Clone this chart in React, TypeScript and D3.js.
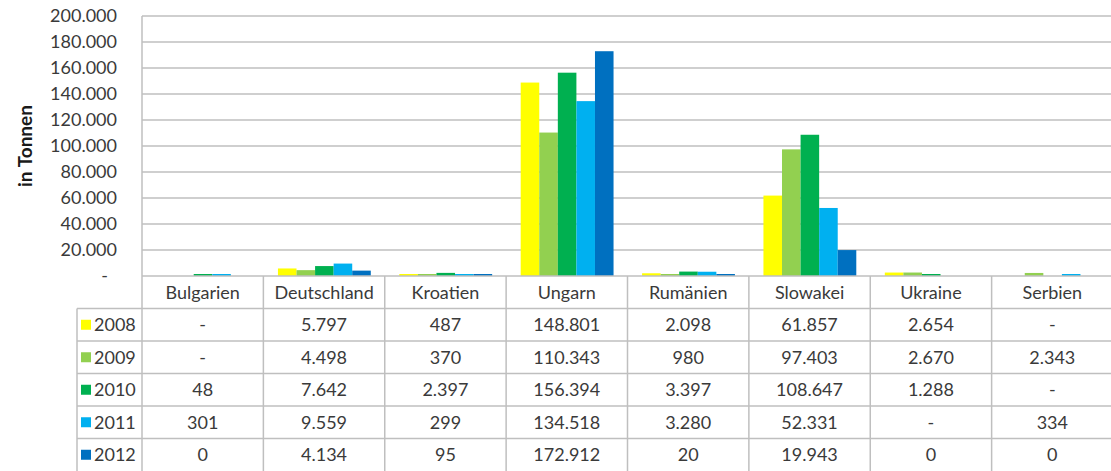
import * as d3 from "d3";
import { useEffect, useRef } from "react";

const countries = ["Bulgarien", "Deutschland", "Kroatien", "Ungarn", "Rumänien", "Slowakei", "Ukraine", "Serbien"];
const years = ["2008", "2009", "2010", "2011", "2012"];
const yearColors = ["#ffff00", "#92d050", "#00b050", "#00b0f0", "#0070c0"];

// null = "-" in the table
const v2008 = [null, 5797, 487, 148801, 2098, 61857, 2654, null];
const v2009 = [null, 4498, 370, 110343, 980, 97403, 2670, 2343];
const v2010 = [48, 7642, 2397, 156394, 3397, 108647, 1288, null];
const v2011 = [301, 9559, 299, 134518, 3280, 52331, null, 334];
const v2012 = [0, 4134, 95, 172912, 20, 19943, 0, 0];
const series = [v2008, v2009, v2010, v2011, v2012];

const yTicks = [0, 20000, 40000, 60000, 80000, 100000, 120000, 140000, 160000, 180000, 200000];

const W = 1111;
const H = 471;

export default function App() {
  const ref = useRef<SVGSVGElement>(null);

  useEffect(() => {
    if (!ref.current) return;
    const svg = d3.select(ref.current);
    svg.selectAll("*").remove();

    const de = d3.formatLocale({ decimal: ",", thousands: ".", grouping: [3], currency: ["", " €"] });
    const fmt = de.format(",d");

    const left = 142;
    const right = 1113;
    const top = 16;
    const zero = 276;
    const rowH = 32.5;
    const headerBottom = 308.5;
    const legendLeft = 77;

    const font = "Lato, 'Open Sans', sans-serif";
    const textColor = "#3a3a3a";
    const gridColor = "#bfbfbf";

    const x = d3.scaleBand<string>().domain(countries).range([left, right]).padding(0);
    const inner = d3
      .scaleBand<string>()
      .domain(years)
      .range([x.bandwidth() * 0.12, x.bandwidth() * 0.885])
      .padding(0);
    const y = d3.scaleLinear().domain([0, 200000]).range([zero, top]);

    // grid lines
    svg
      .append("g")
      .selectAll("line")
      .data(yTicks.filter((t) => t > 0))
      .enter()
      .append("line")
      .attr("x1", left)
      .attr("x2", right)
      .attr("y1", (d) => y(d))
      .attr("y2", (d) => y(d))
      .attr("stroke", gridColor)
      .attr("stroke-width", 1.5);

    // bars (tiny non-zero values stay visible as a thin line, like the original)
    const groups = svg
      .append("g")
      .selectAll("g")
      .data(countries)
      .enter()
      .append("g")
      .attr("transform", (d) => `translate(${x(d)},0)`);

    const barH = (v: number) => (v > 0 ? Math.max(zero - y(v), 2) : 0);

    groups
      .selectAll("rect")
      .data((c, ci) => years.map((yr, si) => ({ yr, si, v: series[si][ci] ?? 0 })))
      .enter()
      .append("rect")
      .attr("x", (d) => inner(d.yr)!)
      .attr("width", inner.bandwidth())
      .attr("y", (d) => zero - barH(d.v))
      .attr("height", (d) => barH(d.v))
      .attr("fill", (d) => yearColors[d.si]);

    // y tick labels
    const ticks = svg.append("g");
    ticks
      .selectAll("text")
      .data(yTicks)
      .enter()
      .append("text")
      .attr("x", (d) => (d === 0 ? 108 : 117))
      .attr("y", (d) => y(d))
      .attr("dy", "0.35em")
      .attr("text-anchor", "end")
      .attr("font-family", font)
      .attr("font-size", 18)
      .attr("fill", textColor)
      .text((d) => (d === 0 ? "-" : fmt(d)));

    // y axis title
    svg
      .append("text")
      .attr("transform", `translate(25,${(top + zero) / 2}) rotate(-90)`)
      .attr("text-anchor", "middle")
      .attr("dy", "0.35em")
      .attr("font-family", font)
      .attr("font-weight", "bold")
      .attr("font-size", 19)
      .attr("fill", "#1a1a1a")
      .text("in Tonnen");

    // table lines
    const lines = svg.append("g").attr("stroke", gridColor).attr("stroke-width", 1.5);
    lines.append("line").attr("x1", left).attr("x2", right).attr("y1", zero).attr("y2", zero);
    lines.append("line").attr("x1", left).attr("x2", left).attr("y1", top).attr("y2", H);
    lines
      .selectAll(".sep")
      .data(countries.slice(1))
      .enter()
      .append("line")
      .attr("x1", (d) => x(d)!)
      .attr("x2", (d) => x(d)!)
      .attr("y1", zero)
      .attr("y2", H);
    const rowTops = years.map((_, i) => headerBottom + i * rowH);
    lines
      .selectAll(".row")
      .data(rowTops)
      .enter()
      .append("line")
      .attr("x1", legendLeft)
      .attr("x2", right)
      .attr("y1", (d) => d)
      .attr("y2", (d) => d);
    lines.append("line").attr("x1", legendLeft).attr("x2", legendLeft).attr("y1", headerBottom).attr("y2", H);

    // header labels
    svg
      .append("g")
      .selectAll("text")
      .data(countries)
      .enter()
      .append("text")
      .attr("x", (d) => x(d)! + x.bandwidth() / 2)
      .attr("y", (zero + headerBottom) / 2)
      .attr("dy", "0.35em")
      .attr("text-anchor", "middle")
      .attr("font-family", font)
      .attr("font-size", 18)
      .attr("fill", textColor)
      .text((d) => d);

    // legend cells
    const legend = svg
      .append("g")
      .selectAll("g")
      .data(years)
      .enter()
      .append("g")
      .attr("transform", (d, i) => `translate(0,${rowTops[i] + rowH / 2})`);
    legend
      .append("rect")
      .attr("x", legendLeft + 4)
      .attr("y", -5)
      .attr("width", 10)
      .attr("height", 10)
      .attr("fill", (d, i) => yearColors[i]);
    legend
      .append("text")
      .attr("x", legendLeft + 17)
      .attr("dy", "0.35em")
      .attr("font-family", font)
      .attr("font-size", 18)
      .attr("fill", textColor)
      .text((d) => d);

    // value cells
    series.forEach((vals, si) => {
      svg
        .append("g")
        .selectAll("text")
        .data(vals)
        .enter()
        .append("text")
        .attr("x", (d, ci) => x(countries[ci])! + x.bandwidth() / 2)
        .attr("y", rowTops[si] + rowH / 2)
        .attr("dy", "0.35em")
        .attr("text-anchor", "middle")
        .attr("font-family", font)
        .attr("font-size", 18)
        .attr("fill", textColor)
        .text((d) => (d === null ? "-" : fmt(d)));
    });
  }, []);

  return (
    <svg
      ref={ref}
      width={W}
      height={H}
      style={{ position: "absolute", left: 0, top: 0, background: "#fff" }}
    />
  );
}
